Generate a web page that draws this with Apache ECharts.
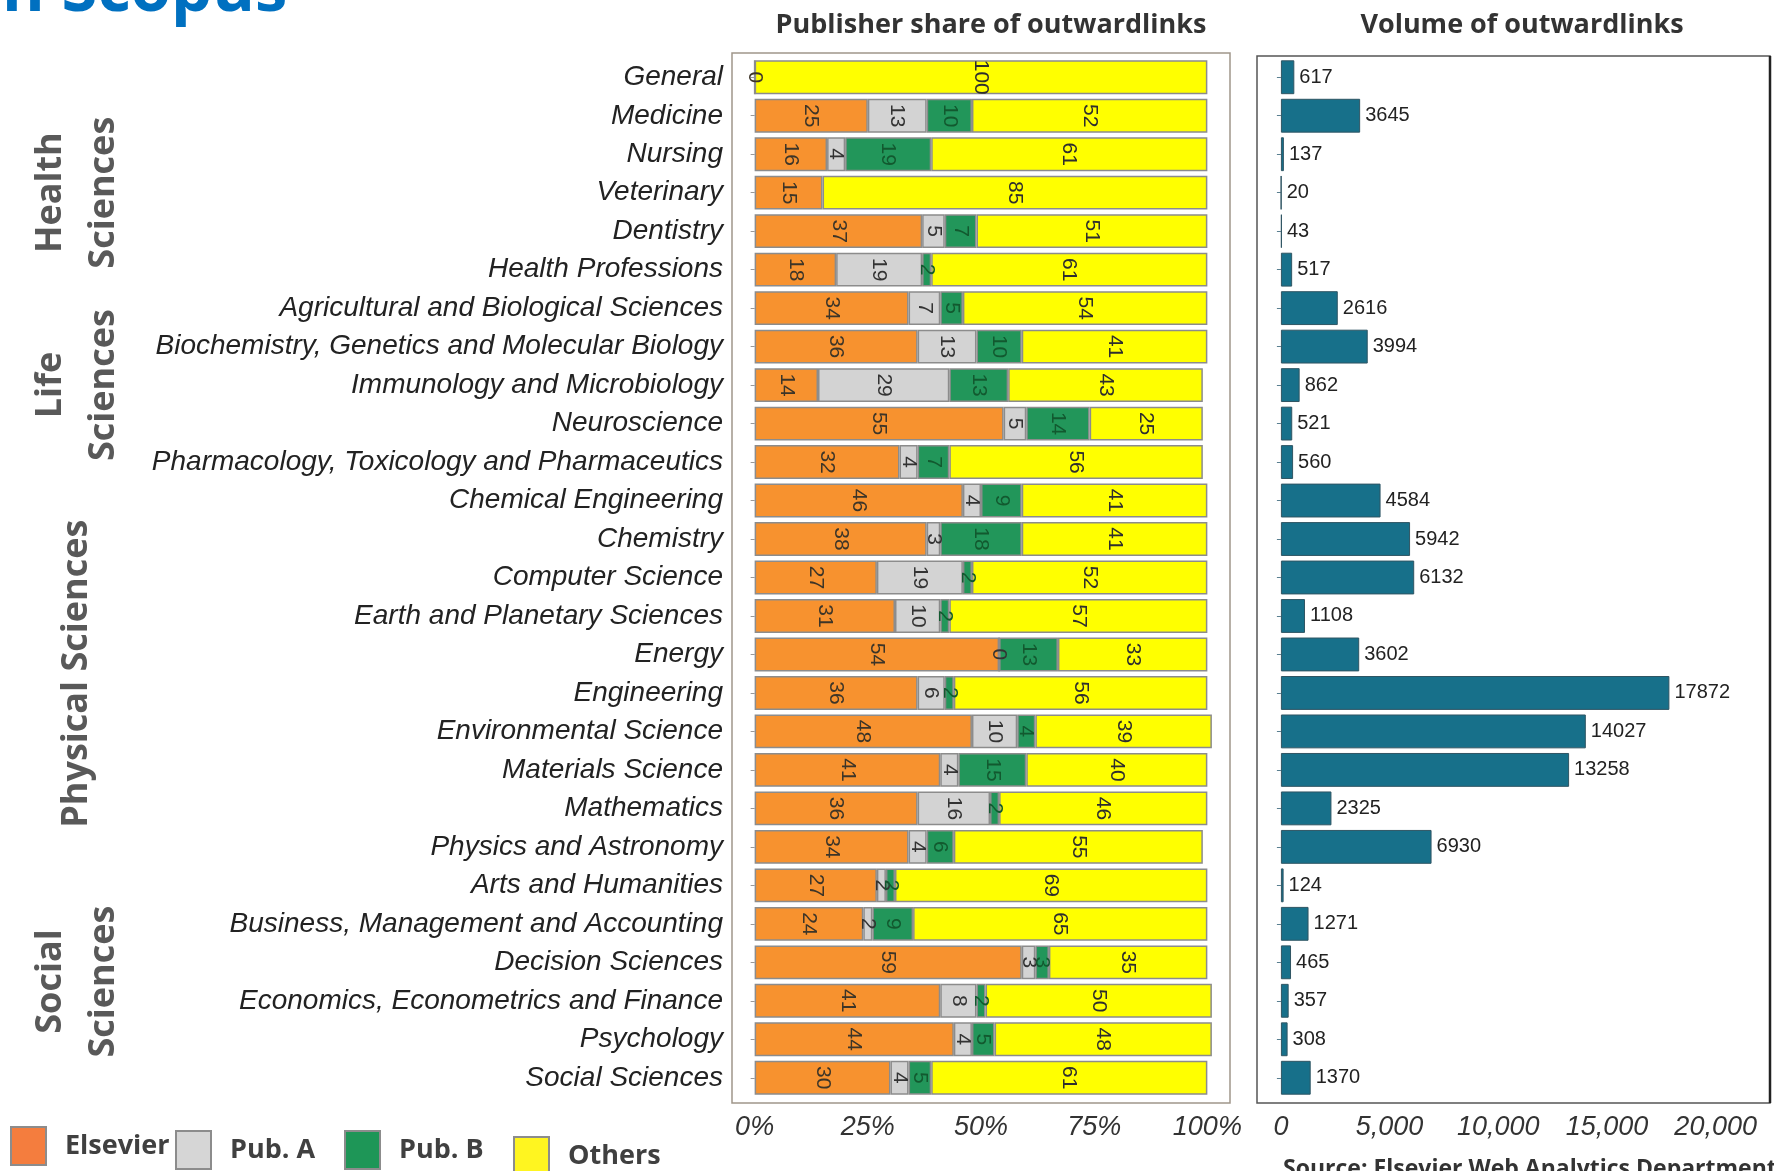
<!DOCTYPE html>
<html>
<head>
    <meta charset="utf-8">
    <title>outwardlinks</title>
    <script src="https://cdn.jsdelivr.net/npm/echarts@6/dist/echarts.min.js"></script>
    <style>
        html, body { margin: 0; padding: 0; background: #fff; }
        #chart { width: 1774px; height: 1171px; }
    </style>
</head>
<body>
    <div id="chart"></div>
    <script type="text/javascript">
        var categories = ['General', 'Medicine', 'Nursing', 'Veterinary', 'Dentistry', 'Health Professions',
            'Agricultural and Biological Sciences', 'Biochemistry, Genetics and Molecular Biology',
            'Immunology and Microbiology', 'Neuroscience', 'Pharmacology, Toxicology and Pharmaceutics',
            'Chemical Engineering', 'Chemistry', 'Computer Science', 'Earth and Planetary Sciences',
            'Energy', 'Engineering', 'Environmental Science', 'Materials Science', 'Mathematics',
            'Physics and Astronomy', 'Arts and Humanities', 'Business, Management and Accounting',
            'Decision Sciences', 'Economics, Econometrics and Finance', 'Psychology', 'Social Sciences'];
        // share of outwardlinks in %, null = no links for that publisher
        var elsevier = [0, 25, 16, 15, 37, 18, 34, 36, 14, 55, 32, 46, 38, 27, 31, 54, 36, 48, 41, 36, 34, 27, 24, 59, 41, 44, 30];
        var pubA = [null, 13, 4, null, 5, 19, 7, 13, 29, 5, 4, 4, 3, 19, 10, 0, 6, 10, 4, 16, 4, 2, 2, 3, 8, 4, 4];
        var pubB = [null, 10, 19, null, 7, 2, 5, 10, 13, 14, 7, 9, 18, 2, 2, 13, 2, 4, 15, 2, 6, 2, 9, 3, 2, 5, 5];
        var others = [100, 52, 61, 85, 51, 61, 54, 41, 43, 25, 56, 41, 41, 52, 57, 33, 56, 39, 40, 46, 55, 69, 65, 35, 50, 48, 61];
        var volume = [617, 3645, 137, 20, 43, 517, 2616, 3994, 862, 521, 560, 4584, 5942, 6132, 1108, 3602,
            17872, 14027, 13258, 2325, 6930, 124, 1271, 465, 357, 308, 1370];
        var shareTicks = [0, 25, 50, 75, 100];
        var volumeTicks = [0, 5000, 10000, 15000, 20000];
        var groupNames = ['Health\nSciences', 'Life\nSciences', 'Physical Sciences', 'Social\nSciences'];
        var groupFirst = ['Medicine', 'Agricultural and Biological Sciences', 'Chemical Engineering', 'Arts and Humanities'];
        var groupLast = ['Health Professions', 'Pharmacology, Toxicology and Pharmaceutics', 'Physics and Astronomy', 'Social Sciences'];

        var plain = '"Liberation Sans", Arial, sans-serif';
        var heavy = '"Open Sans", sans-serif';

        var shareGrid = {left: 732, top: 58, width: 498, height: 1039};
        var volumeGrid = {left: 1257, top: 58, width: 513, height: 1039};

        function shareSeries(name, values, color, labelColor) {
            return {
                name: name,
                type: 'bar',
                stack: 'share',
                xAxisIndex: 0,
                yAxisIndex: 0,
                barWidth: '88%',
                data: values,
                itemStyle: {color: color, borderColor: '#8c8c8c', borderWidth: 1.5},
                label: {
                    show: true, position: 'inside', rotate: -90,
                    color: labelColor, fontFamily: plain, fontSize: 21
                },
                emphasis: {disabled: true}
            };
        }

        function legendFor(name, color, left, top) {
            return {
                data: [{name: name, itemStyle: {color: color}}],
                left: left, top: top, padding: 0,
                icon: 'rect', itemWidth: 35, itemHeight: 38,
                selectedMode: false,
                textStyle: {fontFamily: heavy, fontWeight: 'bold', fontSize: 27, color: '#404040', padding: [0, 0, 0, 14]}
            };
        }

        var myChart = echarts.init(document.getElementById('chart'));
        var option = {
            animation: false,
            backgroundColor: '#fff',
            grid: [
                {left: shareGrid.left, top: shareGrid.top, width: shareGrid.width, height: shareGrid.height},
                {left: volumeGrid.left, top: volumeGrid.top, width: volumeGrid.width, height: volumeGrid.height}
            ],
            xAxis: [{
                gridIndex: 0, type: 'value', min: -5, max: 105,
                splitLine: {show: false}, axisLine: {show: false}, axisTick: {show: false},
                axisLabel: {
                    customValues: shareTicks, margin: 17,
                    formatter: function (v) { return v + '%'; },
                    fontFamily: plain, fontStyle: 'italic', fontSize: 27, color: '#333'
                }
            }, {
                gridIndex: 1, type: 'value', min: -1100, max: 22500,
                splitLine: {show: false}, axisLine: {show: false}, axisTick: {show: false},
                axisLabel: {
                    customValues: volumeTicks, margin: 17,
                    formatter: function (v) { return v.toLocaleString('en-US'); },
                    fontFamily: plain, fontStyle: 'italic', fontSize: 27, color: '#333'
                }
            }],
            yAxis: [{
                gridIndex: 0, type: 'category', inverse: true, data: categories,
                axisLine: {show: false},
                axisTick: {show: true, alignWithLabel: true, length: 4, lineStyle: {color: '#999'}},
                axisLabel: {
                    interval: 0, margin: 9, fontFamily: plain, fontStyle: 'italic', fontSize: 28, color: '#222'
                }
            }, {
                gridIndex: 1, type: 'category', inverse: true, data: categories,
                axisLine: {show: false},
                axisTick: {show: true, alignWithLabel: true, length: 4, lineStyle: {color: '#5a7f90'}},
                axisLabel: {show: false}
            }],
            legend: [
                legendFor('Elsevier', '#f47d3e', 10, 1126),
                legendFor('Pub. A', '#d6d6d6', 175, 1130),
                legendFor('Pub. B', '#1e9657', 344, 1130),
                legendFor('Others', '#fff520', 513, 1136)
            ],
            series: [
                shareSeries('Elsevier', elsevier, '#f7922f', '#3d3528'),
                shareSeries('Pub. A', pubA, '#d3d3d3', '#333'),
                shareSeries('Pub. B', pubB, '#22965a', '#12592f'),
                shareSeries('Others', others, '#ffff00', '#2e2e2e'),
                {
                    name: 'Volume',
                    type: 'bar',
                    xAxisIndex: 1,
                    yAxisIndex: 1,
                    barWidth: '88%',
                    data: volume,
                    itemStyle: {color: '#17708a', borderColor: '#2f5563', borderWidth: 1},
                    label: {
                        show: true, position: 'right', distance: 5,
                        color: '#222', fontFamily: plain, fontSize: 20
                    },
                    emphasis: {disabled: true}
                }
            ]
        };
        myChart.setOption(option);

        // group labels centred on their category ranges
        var graphics = [];
        for (var g = 0; g < groupNames.length; g++) {
            var y1 = myChart.convertToPixel({yAxisIndex: 0}, groupFirst[g]);
            var y2 = myChart.convertToPixel({yAxisIndex: 0}, groupLast[g]);
            graphics.push({
                type: 'text', x: 77, y: (y1 + y2) / 2, rotation: Math.PI / 2,
                style: {
                    text: groupNames[g], align: 'center', verticalAlign: 'middle',
                    font: 'bold 36px ' + heavy, fill: '#595959', lineHeight: 53
                }
            });
        }
        // panel frames
        graphics.push({
            type: 'rect', silent: true,
            shape: {x: shareGrid.left, y: shareGrid.top - 5, width: shareGrid.width, height: shareGrid.height + 11},
            style: {fill: null, stroke: '#a0968a', lineWidth: 1.5}
        });
        graphics.push({
            type: 'rect', silent: true,
            shape: {x: volumeGrid.left, y: volumeGrid.top - 2, width: volumeGrid.width, height: volumeGrid.height + 8},
            style: {fill: null, stroke: '#555', lineWidth: 1.5}
        });
        graphics.push({
            type: 'line', silent: true,
            shape: {x1: volumeGrid.left + volumeGrid.width, y1: volumeGrid.top - 2,
                x2: volumeGrid.left + volumeGrid.width, y2: volumeGrid.top + volumeGrid.height + 6},
            style: {stroke: '#222', lineWidth: 2.5}
        });
        graphics.push({
            type: 'text', x: shareGrid.left + 259, y: 25,
            style: {text: 'Publisher share of outwardlinks', align: 'center', verticalAlign: 'middle',
                font: 'bold 27px ' + heavy, fill: '#333'}
        });
        graphics.push({
            type: 'text', x: 1522, y: 25,
            style: {text: 'Volume of outwardlinks', align: 'center', verticalAlign: 'middle',
                font: 'bold 27px ' + heavy, fill: '#333'}
        });
        graphics.push({
            type: 'text', x: 2, y: -8,
            style: {text: 'n Scopus', align: 'left', verticalAlign: 'middle',
                font: 'bold 65px ' + heavy, fill: '#0070c0'}
        });
        graphics.push({
            type: 'text', x: 1283, y: 1158,
            style: {text: 'Source: Elsevier Web Analytics Department', align: 'left', verticalAlign: 'top',
                font: 'bold 23px ' + heavy, fill: '#333'}
        });
        myChart.setOption({graphic: graphics});
    </script>
</body>
</html>
